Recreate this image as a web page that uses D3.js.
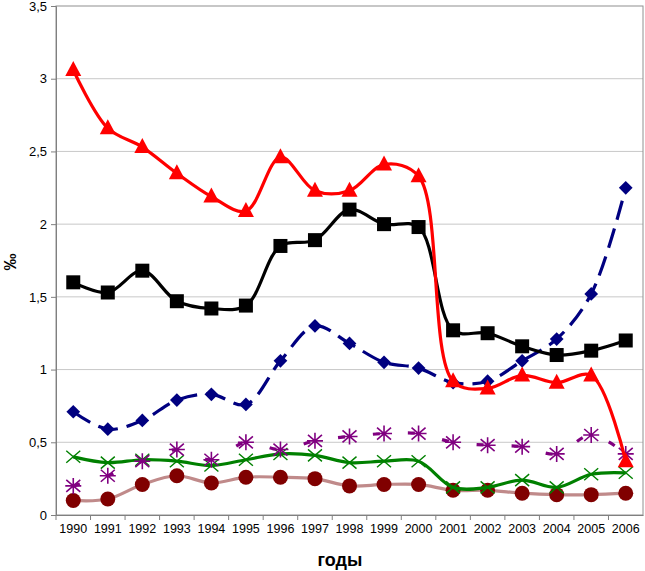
<!DOCTYPE html>
<html>
<head>
<meta charset="utf-8">
<script src="https://cdn.jsdelivr.net/npm/d3@7"></script>
<style>
  body { margin: 0; background: #fff; }
  svg { font-family: "Liberation Sans", Arial, sans-serif; }
</style>
</head>
<body>
<div id="chart-area"></div>
<script>
// data
var years = ["1990","1991","1992","1993","1994","1995","1996","1997","1998","1999","2000","2001","2002","2003","2004","2005","2006"];
var yTicks = [0, 0.5, 1, 1.5, 2, 2.5, 3, 3.5];

var redVals    = [3.06, 2.66, 2.53, 2.35, 2.19, 2.09, 2.46, 2.23, 2.23, 2.41, 2.33, 0.92, 0.87, 0.96, 0.91, 0.96, 0.37];
var blackVals  = [1.60, 1.53, 1.68, 1.47, 1.42, 1.44, 1.85, 1.89, 2.10, 2.00, 1.98, 1.27, 1.25, 1.16, 1.10, 1.13, 1.20];
var blueVals   = [0.71, 0.59, 0.65, 0.79, 0.83, 0.76, 1.06, 1.30, 1.18, 1.05, 1.01, 0.91, 0.92, 1.06, 1.21, 1.52, 2.25];
var purpleVals = [0.20, 0.27, 0.37, 0.45, 0.38, 0.50, 0.45, 0.51, 0.54, 0.56, 0.56, 0.50, 0.48, 0.47, 0.42, 0.55, 0.42];
var greenVals  = [0.40, 0.36, 0.38, 0.37, 0.34, 0.38, 0.42, 0.41, 0.36, 0.37, 0.37, 0.19, 0.19, 0.24, 0.19, 0.28, 0.29];
var brownVals  = [0.10, 0.11, 0.21, 0.27, 0.22, 0.26, 0.26, 0.25, 0.20, 0.21, 0.21, 0.17, 0.17, 0.15, 0.14, 0.14, 0.15];

var margin = {top: 6, right: 2, bottom: 55, left: 56};
var width = 645 - margin.left - margin.right;
var height = 509;

var svg = d3.select("#chart-area")
    .append("svg")
    .attr("width", 645)
    .attr("height", 571);

var g = svg.append("g")
    .attr("transform", "translate(" + margin.left + ", " + margin.top + ")");

var x = d3.scaleBand()
    .domain(years)
    .range([0, width]);

var y = d3.scaleLinear()
    .domain([0, 3.5])
    .range([height, 0]);

// gridlines
g.selectAll("line.grid").data(yTicks.slice(1, -1))
    .enter().append("line")
    .attr("class", "grid")
    .attr("x1", 0).attr("x2", width)
    .attr("y1", (d) => y(d)).attr("y2", (d) => y(d))
    .attr("stroke", "#c8c8c8")
    .attr("stroke-width", 1);

// frame
g.append("rect")
    .attr("x", 0).attr("y", 0)
    .attr("width", width).attr("height", height)
    .attr("fill", "none")
    .attr("stroke", "#909090");

// left axis
var yAxisCall = d3.axisLeft(y)
    .tickValues(yTicks)
    .tickSize(5)
    .tickFormat((d) => String(d).replace(".", ","));
var yAx = g.append("g").attr("class", "left axis").call(yAxisCall);
yAx.select(".domain").attr("stroke", "#808080");
yAx.selectAll(".tick line").attr("stroke", "#808080");
yAx.selectAll("text").attr("font-size", "13px").attr("fill", "#000").attr("x", -9);

// bottom axis: ticks between categories
var xAxisCall = d3.axisBottom(x).tickSize(0).tickPadding(9);
var xAx = g.append("g")
    .attr("class", "bottom axis")
    .attr("transform", "translate(0, " + height + ")")
    .call(xAxisCall);
xAx.select(".domain").attr("stroke", "#808080");
xAx.selectAll("text").attr("font-size", "12.5px").attr("fill", "#000");
xAx.selectAll("line.sep").data(years)
    .enter().append("line")
    .attr("class", "sep")
    .attr("x1", (d) => x(d)).attr("x2", (d) => x(d))
    .attr("y1", 0).attr("y2", 5)
    .attr("stroke", "#808080");

// axis labels
svg.append("text")
    .attr("x", 340)
    .attr("y", 566)
    .attr("font-size", "18px")
    .attr("font-weight", "bold")
    .attr("text-anchor", "middle")
    .text("годы");

svg.append("text")
    .attr("transform", "translate(16, 262) rotate(-90)")
    .attr("font-size", "17px")
    .attr("font-weight", "bold")
    .attr("text-anchor", "middle")
    .text("‰");

var cx = (i) => x(years[i]) + x.bandwidth() / 2;

var line = d3.line()
    .x((d, i) => cx(i))
    .y((d) => y(d))
    .curve(d3.curveCatmullRom.alpha(0.5));

function drawLine(vals, color, dash) {
    g.append("path")
        .datum(vals)
        .attr("d", line)
        .attr("fill", "none")
        .attr("stroke", color)
        .attr("stroke-width", 3.2)
        .attr("stroke-dasharray", dash)
        .attr("stroke-linejoin", "round");
}

var pts = (vals) => g.append("g").selectAll("g").data(vals).enter().append("g")
    .attr("transform", (d, i) => "translate(" + cx(i) + "," + y(d) + ")");

// brown / circles
drawLine(brownVals, "#c08a8a", null);
pts(brownVals).append("circle").attr("r", 7.5).attr("fill", "#800000");

// green / x
drawLine(greenVals, "#008000", null);
pts(greenVals).append("path")
    .attr("d", "M-7,-6L7,6M-7,6L7,-6")
    .attr("stroke", "#008000").attr("stroke-width", 1.4);

// purple / asterisk
drawLine(purpleVals, "#800080", "7,28");
pts(purpleVals).append("path")
    .attr("d", "M-7,-6L7,6M-7,6L7,-6M0,-8L0,8M-8,0L8,0")
    .attr("stroke", "#800080").attr("stroke-width", 1.6);

// blue / diamonds
drawLine(blueVals, "#000080", "20,9");
pts(blueVals).append("path")
    .attr("d", d3.symbol(d3.symbolDiamond2, 120))
    .attr("fill", "#000080");

// black / squares
drawLine(blackVals, "#000", null);
pts(blackVals).append("rect")
    .attr("x", -7).attr("y", -7).attr("width", 14).attr("height", 14)
    .attr("fill", "#000");

// red / triangles
drawLine(redVals, "#ff0000", null);
pts(redVals).append("path")
    .attr("d", "M0,-9L8,6L-8,6Z")
    .attr("fill", "#ff0000");
</script>
</body>
</html>
